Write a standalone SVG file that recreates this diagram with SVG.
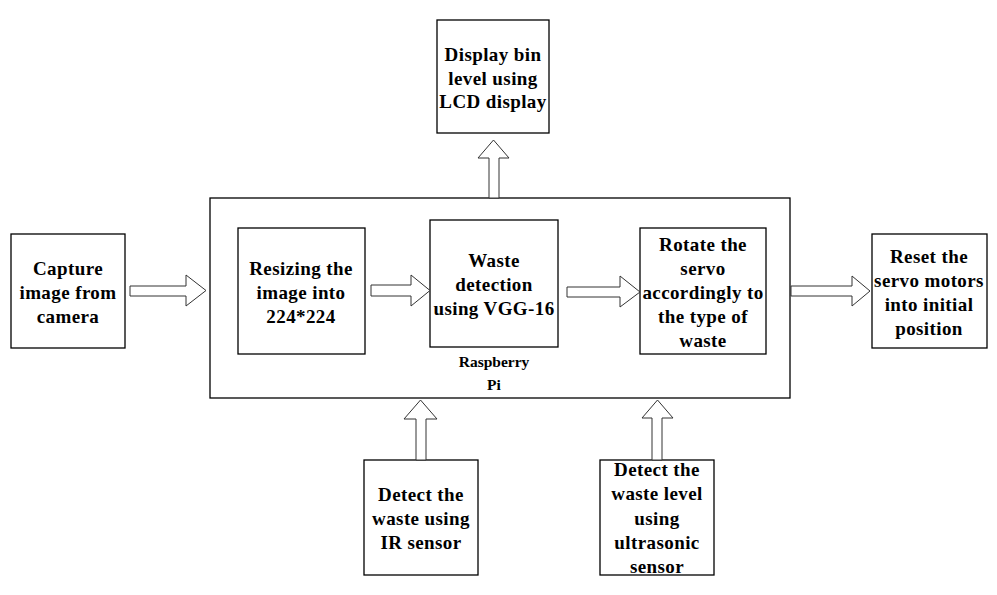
<svg xmlns="http://www.w3.org/2000/svg" width="997" height="595" viewBox="0 0 997 595">
<style>
.box{fill:#fff;stroke:#000;stroke-width:1.3}
.arr{fill:#fff;stroke:#333;stroke-width:1}
text{font-family:"Liberation Serif","Times New Roman",serif;font-weight:bold;font-size:19px;letter-spacing:0.4px;fill:#000;text-anchor:middle}
.small{font-size:15.5px;letter-spacing:0}
</style>
<g id="raspberry-pi">
<rect class="box" x="210" y="198" width="580" height="200"/>
<text class="small" x="494" y="367">Raspberry</text>
<text class="small" x="494" y="390">Pi</text>
</g>
<g id="capture">
<rect class="box" x="11" y="234" width="114" height="114"/>
<text x="68" y="275">Capture</text>
<text x="68" y="299">image from</text>
<text x="68" y="323">camera</text>
</g>
<g id="resize">
<rect class="box" x="238" y="228" width="127" height="126"/>
<text x="301" y="275">Resizing the</text>
<text x="301" y="299">image into</text>
<text x="301" y="323">224*224</text>
</g>
<g id="detect">
<rect class="box" x="430" y="220" width="128" height="127"/>
<text x="494" y="267">Waste</text>
<text x="494" y="291">detection</text>
<text x="494" y="315">using VGG-16</text>
</g>
<g id="rotate">
<rect class="box" x="640" y="228" width="126" height="126"/>
<text x="703" y="251">Rotate the</text>
<text x="703" y="275">servo</text>
<text x="703" y="299">accordingly to</text>
<text x="703" y="323">the type of</text>
<text x="703" y="347">waste</text>
</g>
<g id="reset">
<rect class="box" x="872" y="234" width="115" height="114"/>
<text x="929" y="263">Reset the</text>
<text x="929" y="287">servo motors</text>
<text x="929" y="311">into initial</text>
<text x="929" y="335">position</text>
</g>
<g id="display">
<rect class="box" x="437" y="20" width="112" height="113"/>
<text x="493" y="61">Display bin</text>
<text x="493" y="85">level using</text>
<text x="493" y="108">LCD display</text>
</g>
<g id="ir">
<rect class="box" x="364" y="460" width="114" height="115"/>
<text x="421" y="501">Detect the</text>
<text x="421" y="525">waste using</text>
<text x="421" y="549">IR sensor</text>
</g>
<g id="ultrasonic">
<rect class="box" x="600" y="460" width="114" height="115"/>
<text x="657" y="476">Detect the</text>
<text x="657" y="500">waste level</text>
<text x="657" y="525">using</text>
<text x="657" y="549">ultrasonic</text>
<text x="657" y="573">sensor</text>
</g>
<g id="connectors">
<path class="arr" d="M130,286 H186 V275 L206,290.5 L186,306 V296 H130 Z"/>
<path class="arr" d="M371,285 H411 V275 L430,290.5 L411,306 V296 H371 Z"/>
<path class="arr" d="M567,287 H620 V276 L640,292 L620,307 V297 H567 Z"/>
<path class="arr" d="M791,286 H852 V276 L870,291 L852,306 V296 H791 Z"/>
<path class="arr" d="M489,198 V158 H478 L493.5,140 L509,158 H499 V198 Z"/>
<path class="arr" d="M416,460 V419 H404 L420.5,400 L437,419 H426 V460 Z"/>
<path class="arr" d="M652,460 V418 H642 L657.5,400 L673,418 H662 V460 Z"/>
</g>
</svg>
